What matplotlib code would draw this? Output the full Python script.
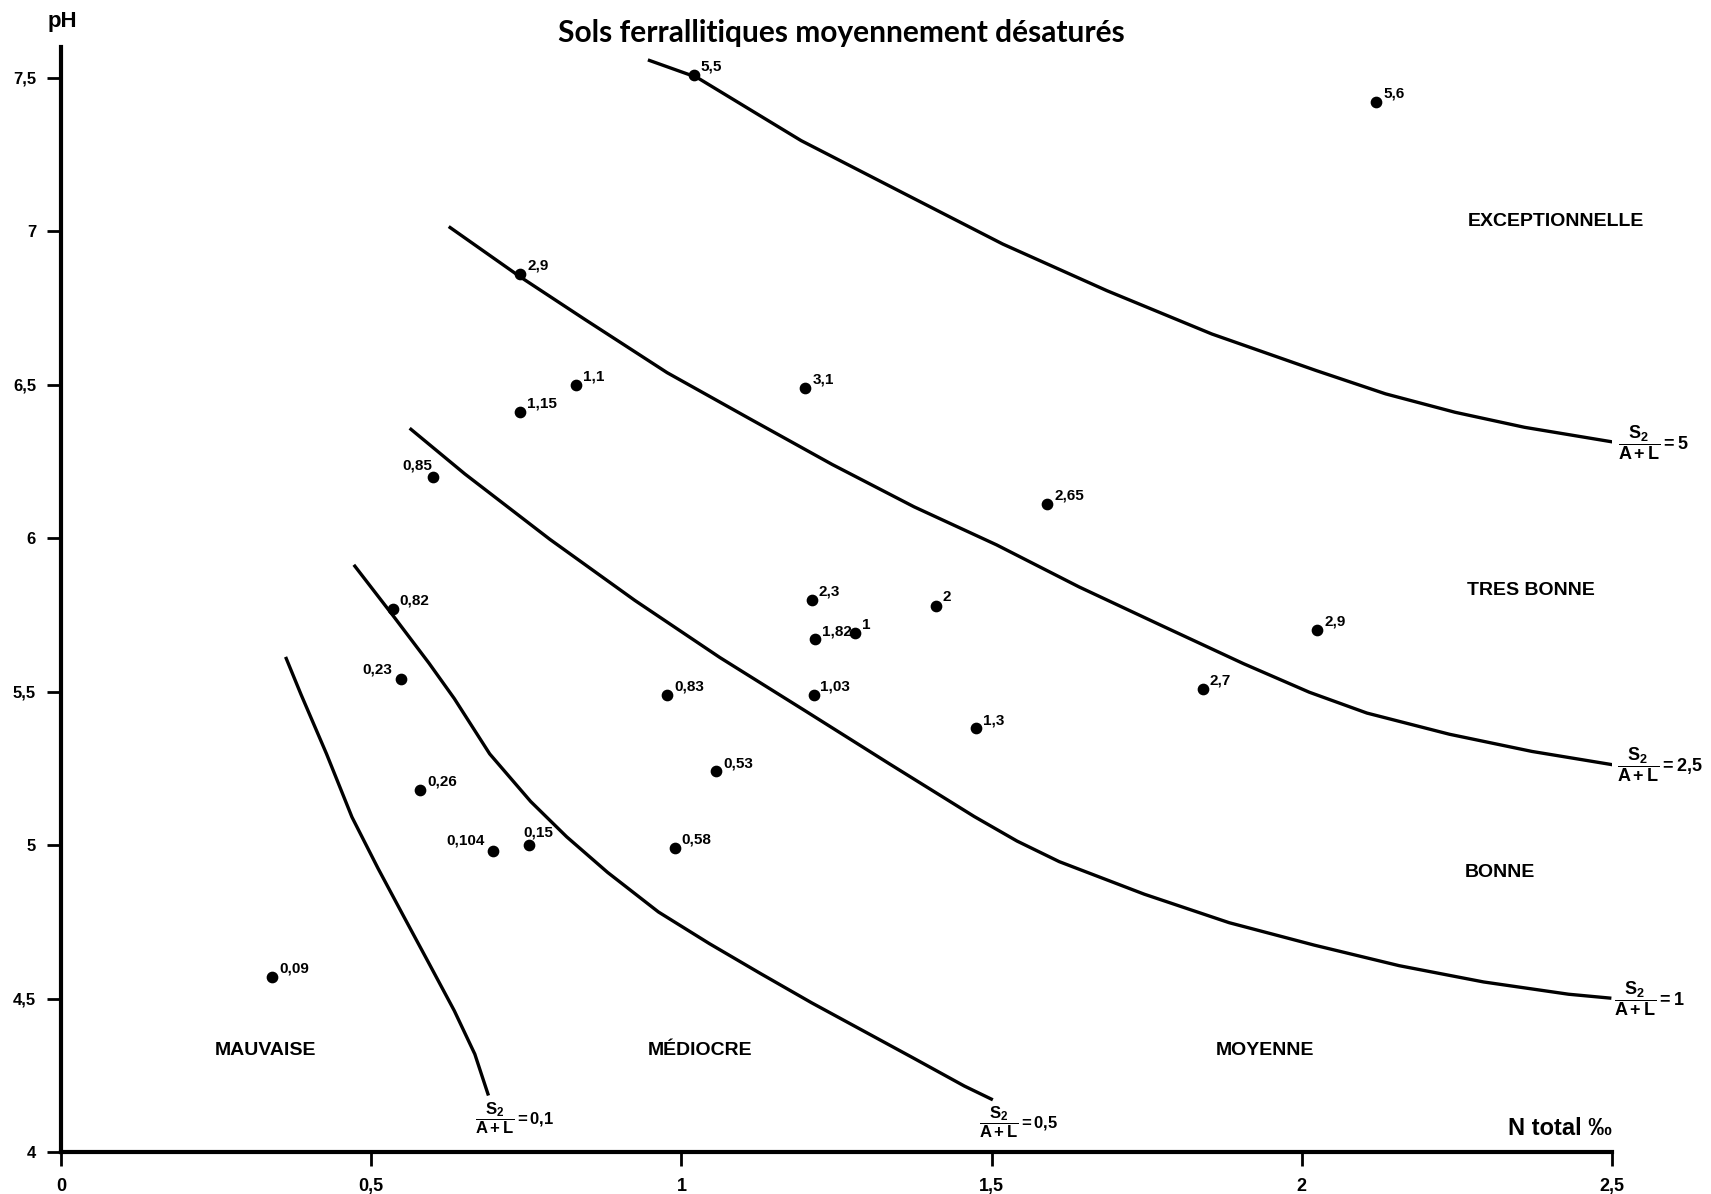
import matplotlib
matplotlib.use("Agg")
import matplotlib.pyplot as plt

# sample points: N total (per mille), pH, and the S2/(A+L) value written next to each
n_total = [1.02, 2.12, 0.74, 0.83, 0.74, 1.20, 0.60, 1.59, 0.535, 1.21, 1.41, 1.215, 1.28,
           2.025, 0.548, 0.977, 1.213, 1.84, 1.475, 1.056, 0.579, 0.697, 0.755, 0.989, 0.34]
ph = [7.51, 7.42, 6.86, 6.50, 6.41, 6.49, 6.20, 6.11, 5.77, 5.80, 5.78, 5.67, 5.69,
      5.70, 5.54, 5.49, 5.49, 5.51, 5.38, 5.24, 5.18, 4.98, 5.00, 4.99, 4.57]
ratio_labels = ['5,5', '5,6', '2,9', '1,1', '1,15', '3,1', '0,85', '2,65', '0,82', '2,3', '2',
                '1,82', '1', '2,9', '0,23', '0,83', '1,03', '2,7', '1,3', '0,53', '0,26',
                '0,104', '0,15', '0,58', '0,09']

# iso-lines S2/(A+L)
curve_5_x = [0.946, 1.025, 1.193, 1.350, 1.518, 1.686, 1.855, 2.023, 2.135, 2.247, 2.359, 2.505]
curve_5_y = [7.558, 7.501, 7.295, 7.132, 6.958, 6.806, 6.665, 6.546, 6.470, 6.410, 6.361, 6.312]
curve_25_x = [0.625, 0.741, 0.844, 0.977, 1.110, 1.243, 1.375, 1.508, 1.641, 1.773, 1.906,
              2.012, 2.105, 2.238, 2.371, 2.503]
curve_25_y = [7.015, 6.850, 6.713, 6.539, 6.389, 6.240, 6.102, 5.978, 5.841, 5.716, 5.591,
              5.498, 5.430, 5.361, 5.305, 5.261]
curve_1_x = [0.562, 0.651, 0.788, 0.925, 1.062, 1.199, 1.335, 1.472, 1.541, 1.609, 1.746,
             1.883, 2.020, 2.157, 2.293, 2.430, 2.499]
curve_1_y = [6.358, 6.209, 5.996, 5.797, 5.611, 5.438, 5.265, 5.093, 5.013, 4.946, 4.840,
             4.747, 4.674, 4.607, 4.554, 4.514, 4.501]
curve_05_x = [0.472, 0.535, 0.593, 0.634, 0.691, 0.757, 0.815, 0.881, 0.963, 1.045, 1.127,
              1.210, 1.292, 1.374, 1.456, 1.502]
curve_05_y = [5.913, 5.748, 5.593, 5.477, 5.297, 5.142, 5.027, 4.911, 4.782, 4.679, 4.582,
              4.486, 4.396, 4.306, 4.215, 4.170]
curve_01_x = [0.362, 0.387, 0.428, 0.469, 0.511, 0.552, 0.593, 0.634, 0.667, 0.689]
curve_01_y = [5.613, 5.490, 5.297, 5.091, 4.924, 4.769, 4.615, 4.460, 4.319, 4.184]

curve_values = ['5', '2{,}5', '1', '0{,}5', '0{,}1']

zones = ['EXCEPTIONNELLE', 'TRES BONNE', 'BONNE', 'MOYENNE', 'MÉDIOCRE', 'MAUVAISE']
zone_x = [2.41, 2.37, 2.32, 1.94, 1.03, 0.33]
zone_y = [7.03, 5.83, 4.91, 4.33, 4.33, 4.33]

x_ticks = [0, 0.5, 1, 1.5, 2, 2.5]
x_ticklabels = ['0', '0,5', '1', '1,5', '2', '2,5']
y_ticks = [4, 4.5, 5, 5.5, 6, 6.5, 7, 7.5]
y_ticklabels = ['4', '4,5', '5', '5,5', '6', '6,5', '7', '7,5']

narrow = ['Liberation Sans Narrow', 'Liberation Sans', 'DejaVu Sans']
plt.rcParams['mathtext.fontset'] = 'custom'
plt.rcParams['mathtext.rm'] = 'Liberation Sans'
plt.rcParams['mathtext.bf'] = 'Liberation Sans:bold'
plt.rcParams['mathtext.it'] = 'Liberation Sans:italic'

fig = plt.figure(figsize=(17.11, 11.94), dpi=100)
ax = fig.add_axes([61 / 1711, 42 / 1194, 1551 / 1711, 1105 / 1194])
ax.set_xlim(0, 2.5)
ax.set_ylim(4, 7.6)

for s in ['top', 'right']:
    ax.spines[s].set_visible(False)
for s in ['left', 'bottom']:
    ax.spines[s].set_linewidth(3)

ax.set_xticks(x_ticks)
ax.set_xticklabels(x_ticklabels, fontfamily=narrow, fontweight='bold', fontsize=13)
ax.set_yticks(y_ticks)
ax.set_yticklabels(y_ticklabels, fontfamily=narrow, fontweight='bold', fontsize=12)
ax.tick_params(axis='x', length=10, width=2, pad=9)
ax.tick_params(axis='y', length=10, width=2, pad=8)

curves = [(curve_5_x, curve_5_y), (curve_25_x, curve_25_y), (curve_1_x, curve_1_y),
          (curve_05_x, curve_05_y), (curve_01_x, curve_01_y)]
for (cx, cy), val in zip(curves, curve_values):
    ax.plot(cx, cy, color='black', lw=2.4, solid_capstyle='butt', solid_joinstyle='round')
    frac = r'$\dfrac{\mathbf{S_2}}{\mathbf{A+L}}\mathbf{=' + val + '}$'
    if cx[-1] > 2.4:
        ax.annotate(frac, (cx[-1], cy[-1]), xytext=(2, 0), textcoords='offset points',
                    ha='left', va='center', fontsize=13, annotation_clip=False)
    else:
        ax.annotate(frac, (cx[-1], cy[-1]), xytext=(-10, -3), textcoords='offset points',
                    ha='left', va='top', fontsize=12, annotation_clip=False)

ax.scatter(n_total, ph, s=55, color='black', zorder=3)

# label placement for the few points labelled on their left
left_labels = {6: (-1, 3), 14: (-6, 2), 21: (-6, 3)}
for i, (x, y, lab) in enumerate(zip(n_total, ph, ratio_labels)):
    if i in left_labels:
        dx, dy = left_labels[i]
        ha = 'right'
    elif i == 22:
        dx, dy, ha = -4, 4, 'left'
    else:
        dx, dy, ha = 5, 1, 'left'
    ax.annotate(lab, (x, y), xytext=(dx, dy), textcoords='offset points', ha=ha,
                va='bottom', fontsize=11, fontweight='bold', family=narrow)

for name, zx, zy in zip(zones, zone_x, zone_y):
    ax.text(zx, zy, name, ha='center', va='center', fontsize=14, fontweight='bold',
            family='Liberation Sans')

fig.text(841 / 1711, 1 - 33 / 1194, 'Sols ferrallitiques moyennement désaturés',
         ha='center', va='center', fontsize=21.5, fontweight='bold',
         family=['Lato', 'DejaVu Sans'])
fig.text(62 / 1711, 1 - 22 / 1194, 'pH', ha='center', va='center', fontsize=16,
         fontweight='bold', family='Liberation Sans')
ax.text(2.5, 4.04, 'N total ‰', ha='right', va='bottom', fontsize=17,
        fontweight='bold', family=narrow)

fig.savefig('out.png', dpi=100, facecolor='white')
